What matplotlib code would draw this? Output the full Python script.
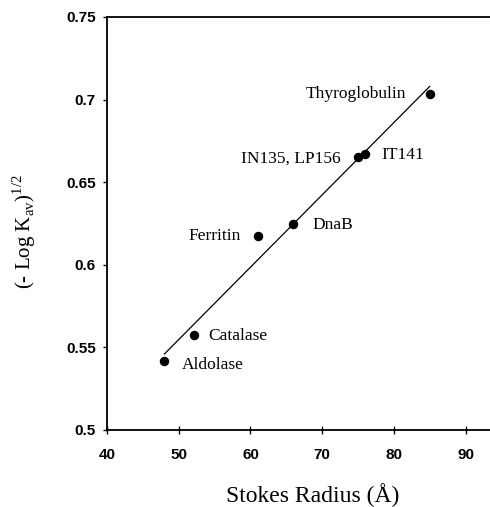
import matplotlib
matplotlib.use('Agg')
import matplotlib.pyplot as plt

plt.rcParams['font.family'] = 'Liberation Serif'
plt.rcParams['mathtext.fontset'] = 'custom'
plt.rcParams['mathtext.rm'] = 'Liberation Serif'

# protein standards: Stokes radius (A) vs (-log Kav)^1/2
proteins = ['Aldolase', 'Catalase', 'Ferritin', 'DnaB',
            'IN135, LP156', 'IT141', 'Thyroglobulin']
stokes_radius = [48.0, 52.1, 61.0, 66.0, 75.0, 76.0, 85.0]
log_kav = [0.542, 0.5575, 0.6175, 0.6245, 0.665, 0.667, 0.7035]

# fitted calibration line
fit_x = [48.0, 85.0]
fit_y = [0.546, 0.708]

x_ticks = [40, 50, 60, 70, 80, 90]
y_ticks = [0.5, 0.55, 0.6, 0.65, 0.7, 0.75]
y_tick_labels = ['0.5', '0.55', '0.6', '0.65', '0.7', '0.75']

# label offsets in pixels and alignment
label_offsets = {
    'Aldolase': (17, -4, 'left'),
    'Catalase': (14, -1, 'left'),
    'Ferritin': (-17, 0, 'right'),
    'DnaB': (19, -1, 'left'),
    'IN135, LP156': (-17, -1, 'right'),
    'IT141': (16, -1, 'left'),
    'Thyroglobulin': (-24, 0, 'right'),
}

fig = plt.figure(figsize=(4.9, 5.07), dpi=100)
ax = fig.add_axes([0.2184, 0.1519, 0.7816, 0.8146])

ax.plot(fit_x, fit_y, color='black', linewidth=0.9)
ax.plot(stokes_radius, log_kav, 'o', color='black', markersize=5.8)

for name, x, y in zip(proteins, stokes_radius, log_kav):
    dx, dy, ha = label_offsets[name]
    ax.annotate(name, (x, y), xytext=(dx, dy), textcoords='offset pixels',
                ha=ha, va='center', fontsize=12.5)

ax.set_xlim(40, 93.4)
ax.set_ylim(0.5, 0.75)
ax.set_xticks(x_ticks)
ax.set_yticks(y_ticks)
ax.set_yticklabels(y_tick_labels)

for lab in ax.get_xticklabels() + ax.get_yticklabels():
    lab.set_family('Liberation Sans')
    lab.set_weight('bold')
    lab.set_fontsize(11)

ax.tick_params(axis='x', direction='inout', length=6, width=1, pad=10)
ax.tick_params(axis='y', direction='out', length=3, width=1, pad=5)

ax.spines['right'].set_visible(False)
for s in ['left', 'top', 'bottom']:
    ax.spines[s].set_linewidth(1.3)

ax.set_xlabel('Stokes Radius (Å)', fontsize=17)
ax.xaxis.set_label_coords(0.538, -0.128)
fig.text(24 / 490, 1 - 232 / 507, r'(- Log K$_{\rm av}$)$^{1/2}$',
         fontsize=15, rotation=90, ha='center', va='center')

fig.savefig('out.png', dpi=100)
